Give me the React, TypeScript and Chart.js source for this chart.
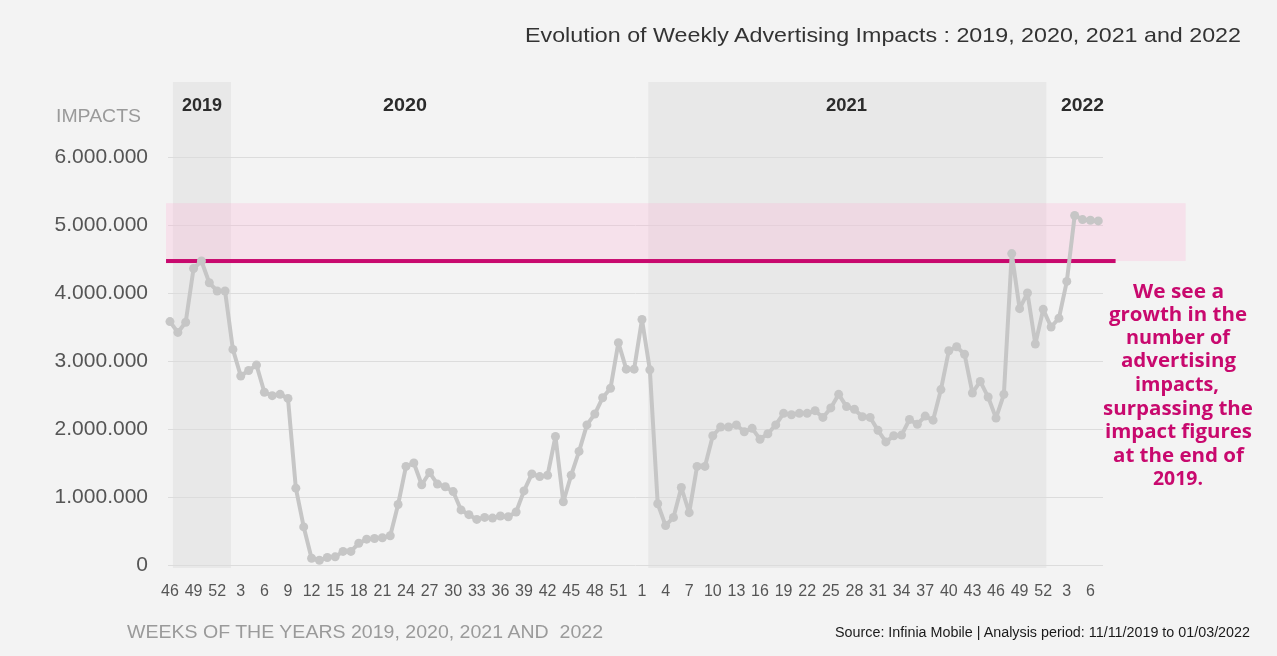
import React, { useEffect, useLayoutEffect, useRef } from "react";
import { Chart, registerables } from "chart.js";

Chart.register(...registerables);

// ---------- data ----------
const weeks2019 = [46, 47, 48, 49, 50, 51, 52];
const weeks2020 = [
  1, 2, 3, 4, 5, 6, 7, 8, 9, 10, 11, 12, 13, 14, 15, 16, 17, 18, 19, 20, 21, 22, 23, 24, 25, 26,
  27, 28, 29, 30, 31, 32, 33, 34, 35, 36, 37, 38, 39, 40, 41, 42, 43, 44, 45, 46, 47, 48, 49, 50,
  51, 52, 53,
];
const weeks2021 = [
  1, 2, 3, 4, 5, 6, 7, 8, 9, 10, 11, 12, 13, 14, 15, 16, 17, 18, 19, 20, 21, 22, 23, 24, 25, 26,
  27, 28, 29, 30, 31, 32, 33, 34, 35, 36, 37, 38, 39, 40, 41, 42, 43, 44, 45, 46, 47, 48, 49, 50,
  51, 52,
];
const weeks2022 = [1, 2, 3, 4, 5, 6, 7];
const weekLabels = [...weeks2019, ...weeks2020, ...weeks2021, ...weeks2022].map(String);

const impacts = [
  // 2019 (46-52)
  3580000, 3420000, 3570000, 4360000, 4470000, 4150000, 4030000,
  // 2020 (1-53)
  4030000, 3170000, 2780000, 2860000, 2940000, 2540000, 2490000, 2510000, 2450000, 1130000,
  560000, 100000, 70000, 110000, 120000, 200000, 200000, 320000, 380000, 390000,
  400000, 430000, 890000, 1450000, 1500000, 1180000, 1360000, 1190000, 1150000, 1080000,
  810000, 740000, 670000, 700000, 690000, 720000, 710000, 780000, 1090000, 1340000,
  1300000, 1320000, 1890000, 930000, 1320000, 1670000, 2060000, 2220000, 2460000, 2600000,
  3270000, 2880000, 2880000,
  // 2021 (1-52)
  3610000, 2870000, 900000, 580000, 700000, 1140000, 770000, 1450000, 1450000, 1900000,
  2030000, 2030000, 2060000, 1960000, 2010000, 1850000, 1930000, 2060000, 2230000, 2210000,
  2230000, 2230000, 2270000, 2170000, 2310000, 2510000, 2330000, 2290000, 2180000, 2170000,
  1980000, 1810000, 1900000, 1910000, 2140000, 2070000, 2190000, 2130000, 2580000, 3150000,
  3210000, 3100000, 2530000, 2700000, 2470000, 2160000, 2510000, 4580000, 3770000, 4000000,
  3250000, 3760000,
  // 2022 (1-7)
  3500000, 3630000, 4170000, 5140000, 5080000, 5070000, 5060000,
];

const yTickValues = [0, 1000000, 2000000, 3000000, 4000000, 5000000, 6000000];
const yTickLabels = ["0", "1.000.000", "2.000.000", "3.000.000", "4.000.000", "5.000.000", "6.000.000"];

const referenceLevel = 4470000; // end of 2019 level
const referenceBandTop = 5320000;

const yearLabels = ["2019", "2020", "2021", "2022"];

const annotationLines = [
  "We see a",
  "growth in the",
  "number of",
  "advertising",
  "impacts,",
  "surpassing the",
  "impact figures",
  "at the end of",
  "2019.",
];

// ---------- helpers ----------
type FitProps = {
  text: string;
  left: number;
  top: number;
  width: number;
  height: number;
  style?: React.CSSProperties;
};

function FitText({ text, left, top, width, height, style }: FitProps) {
  const ref = useRef<HTMLSpanElement>(null);
  useLayoutEffect(() => {
    const el = ref.current;
    if (!el) return;
    el.style.transform = "none";
    const w = el.getBoundingClientRect().width;
    if (w > 0) el.style.transform = `scaleX(${width / w})`;
  }, [text, width]);
  return (
    <div
      style={{
        position: "absolute",
        left,
        top,
        width,
        height,
        lineHeight: height + "px",
        whiteSpace: "nowrap",
        overflow: "visible",
      }}
    >
      <span ref={ref} style={{ display: "inline-block", transformOrigin: "left center", ...style }}>
        {text}
      </span>
    </div>
  );
}

const bandsPlugin = {
  id: "bands",
  beforeDraw(chart: any) {
    const { ctx, chartArea, scales } = chart;
    const x = scales.x;
    const bands: [number, number][] = [
      [0.38, 7.76],
      [60.8, 111.4],
    ];
    ctx.save();
    ctx.fillStyle = "#e8e8e8";
    for (const [a, b] of bands) {
      const x0 = x.getPixelForValue(a);
      const x1 = x.getPixelForValue(b);
      ctx.fillRect(x0, chartArea.top - 75, x1 - x0, chartArea.bottom - chartArea.top + 78);
    }
    ctx.restore();
  },
  beforeDatasetsDraw(chart: any) {
    const { ctx, scales } = chart;
    const x = scales.x;
    const y = scales.y;
    const yTop = y.getPixelForValue(referenceBandTop);
    const yLine = y.getPixelForValue(referenceLevel);
    const xl = x.getPixelForValue(-0.5);
    ctx.save();
    ctx.fillStyle = "rgba(255, 170, 210, 0.25)";
    ctx.fillRect(xl, yTop, x.getPixelForValue(129.1) - xl, yLine - yTop);
    ctx.fillStyle = "#c8096e";
    ctx.fillRect(xl, yLine - 2, x.getPixelForValue(120.2) - xl, 4);
    ctx.restore();
  },
};

export default function App() {
  const canvasRef = useRef<HTMLCanvasElement>(null);

  useEffect(() => {
    document.body.style.margin = "0";
    const canvas = canvasRef.current;
    if (!canvas) return;
    const chart = new Chart(canvas, {
      type: "line",
      data: {
        datasets: [
          {
            data: impacts.map((v, i) => ({ x: i, y: v })),
            borderColor: "#c6c6c6",
            backgroundColor: "#c6c6c6",
            borderWidth: 4,
            borderJoinStyle: "round",
            borderCapStyle: "round",
            pointRadius: 4.5,
            pointBorderWidth: 0,
            pointBackgroundColor: "#c6c6c6",
            tension: 0,
            fill: false,
            clip: false,
          },
        ],
      },
      options: {
        animation: false,
        responsive: false,
        maintainAspectRatio: false,
        events: [],
        layout: { padding: { left: 0, top: 157, right: 174, bottom: 0 } },
        plugins: {
          legend: { display: false },
          tooltip: { enabled: false },
          title: { display: false },
        },
        scales: {
          x: {
            type: "linear",
            min: -0.25,
            max: 118.6,
            grid: { display: false },
            border: { display: false },
            afterBuildTicks: (scale: any) => {
              scale.ticks = weekLabels
                .map((_, i) => i)
                .filter((i) => i % 3 === 0)
                .map((i) => ({ value: i }));
            },
            afterFit: (scale: any) => {
              scale.height = 91;
            },
            ticks: {
              autoSkip: false,
              maxRotation: 0,
              minRotation: 0,
              padding: 9,
              color: "#555555",
              font: { family: "'Liberation Sans', Arial, sans-serif", size: 16 },
              callback: (v: any) => weekLabels[Number(v)] ?? "",
            },
          },
          y: {
            min: 0,
            max: 6000000,
            grid: { color: "#dcdcdc", lineWidth: 1, drawTicks: false },
            border: { display: false },
            afterBuildTicks: (scale: any) => {
              scale.ticks = yTickValues.map((v) => ({ value: v }));
            },
            afterFit: (scale: any) => {
              scale.width = 168;
            },
            ticks: {
              padding: 20,
              color: "#555555",
              font: { family: "'Liberation Sans', Arial, sans-serif", size: 21 },
              callback: (v: any) => {
                const i = yTickValues.indexOf(Number(v));
                return i >= 0 ? yTickLabels[i] : "";
              },
            },
          },
        },
      },
      plugins: [bandsPlugin],
    } as any);
    return () => chart.destroy();
  }, []);

  const yearPos = [
    { left: 182, width: 40 },
    { left: 383, width: 44 },
    { left: 826, width: 41 },
    { left: 1061, width: 43 },
  ];
  const annotationGeom = [
    [1133, 1224, 291],
    [1109, 1247, 314],
    [1126, 1230, 337],
    [1121, 1236, 360],
    [1135, 1219, 384],
    [1103, 1253, 408],
    [1105, 1252, 431],
    [1113, 1244, 455],
    [1153, 1203, 478],
  ];

  return (
    <div
      style={{
        position: "absolute",
        left: 0,
        top: 0,
        width: 1277,
        height: 656,
        background: "#f3f3f3",
        overflow: "hidden",
        fontFamily: "'Liberation Sans', Arial, sans-serif",
      }}
    >
      <canvas
        ref={canvasRef}
        width={1277}
        height={656}
        style={{ position: "absolute", left: 0, top: 0, width: 1277, height: 656 }}
      />
      <FitText
        text="Evolution of Weekly Advertising Impacts : 2019, 2020, 2021 and 2022"
        left={525}
        top={22}
        width={716}
        height={26}
        style={{ fontSize: 21, color: "#333333" }}
      />
      <FitText text="IMPACTS" left={56} top={104} width={85} height={24} style={{ fontSize: 19, color: "#9a9a9a" }} />
      {yearLabels.map((t, i) => (
        <FitText
          key={t}
          text={t}
          left={yearPos[i].left}
          top={94}
          width={yearPos[i].width}
          height={22}
          style={{ fontSize: 18, fontWeight: 700, color: "#2b2b2b" }}
        />
      ))}
      {annotationLines.map((t, i) => (
        <FitText
          key={t}
          text={t}
          left={annotationGeom[i][0]}
          top={annotationGeom[i][2] - 12}
          width={annotationGeom[i][1] - annotationGeom[i][0]}
          height={24}
          style={{ fontSize: 19, fontWeight: 700, color: "#c8096e", fontFamily: "'Open Sans', sans-serif" }}
        />
      ))}
      <FitText
        text="WEEKS OF THE YEARS 2019, 2020, 2021 AND  2022"
        left={127}
        top={621}
        width={476}
        height={22}
        style={{ fontSize: 18, color: "#9a9a9a", whiteSpace: "pre" }}
      />
      <FitText
        text="Source: Infinia Mobile | Analysis period: 11/11/2019 to 01/03/2022"
        left={835}
        top={623}
        width={415}
        height={18}
        style={{ fontSize: 14, color: "#1a1a1a" }}
      />
    </div>
  );
}
